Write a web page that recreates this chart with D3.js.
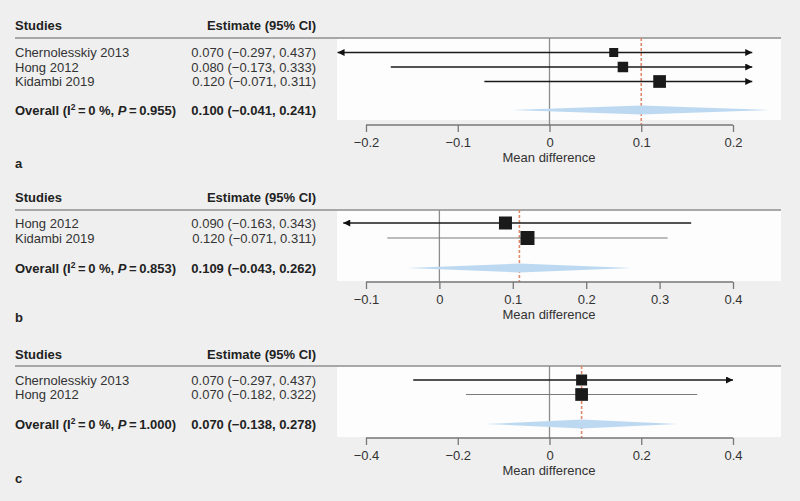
<!DOCTYPE html>
<html><head><meta charset="utf-8">
<script src="https://cdn.jsdelivr.net/npm/d3@7/dist/d3.min.js"></script>
<style>html,body{margin:0;padding:0;background:#efefef;}svg{display:block;}</style>
</head><body>
<script>
// ---- Data ----
const studiesA = ["Chernolesskiy 2013", "Hong 2012", "Kidambi 2019"];
const estA = [0.070, 0.080, 0.120];
const lowA = [-0.297, -0.173, -0.071];
const highA = [0.437, 0.333, 0.311];
const weightA = [14.6, 30.8, 54.6];
const overallA = {i2: "0 %", p: "0.955", est: 0.100, low: -0.041, high: 0.241};
const ticksA = [-0.2, -0.1, 0, 0.1, 0.2];

const studiesB = ["Hong 2012", "Kidambi 2019"];
const estB = [0.090, 0.120];
const lowB = [-0.163, -0.071];
const highB = [0.343, 0.311];
const weightB = [36.4, 63.6];
const overallB = {i2: "0 %", p: "0.853", est: 0.109, low: -0.043, high: 0.262};
const ticksB = [-0.1, 0, 0.1, 0.2, 0.3, 0.4];

const studiesC = ["Chernolesskiy 2013", "Hong 2012"];
const estC = [0.070, 0.070];
const lowC = [-0.297, -0.182];
const highC = [0.437, 0.322];
const weightC = [32.0, 68.0];
const overallC = {i2: "0 %", p: "1.000", est: 0.070, low: -0.138, high: 0.278};
const ticksC = [-0.4, -0.2, 0, 0.2, 0.4];

const panelLetters = ["a", "b", "c"];
const headerStudies = "Studies";
const headerEstimate = "Estimate (95% CI)";
const axisTitle = "Mean difference";

// ---- Layout (styles/positions) ----
const W = 800, H = 501;
const FONT = "'Liberation Sans', Arial, sans-serif";
const FS = 13;
const panels = [
  {studies: studiesA, est: estA, low: lowA, high: highA, w: weightA, ov: overallA, ticks: ticksA, letter: panelLetters[0],
   rowY: [52.5, 67, 81.5], ovY: 110, boxBottom: 120, axisY: 125, clip: [-0.231, 0.221], sq: [9, 12.7],
   lineTop: 38, headY: 25, letterY: 163},
  {studies: studiesB, est: estB, low: lowB, high: highB, w: weightB, ov: overallB, ticks: ticksB, letter: panelLetters[1],
   rowY: [223, 238], ovY: 268, boxBottom: 281, axisY: 282, clip: [-0.131, 0.45], sq: [13, 14],
   lineTop: 210, headY: 197, letterY: 317},
  {studies: studiesC, est: estC, low: lowC, high: highC, w: weightC, ov: overallC, ticks: ticksC, letter: panelLetters[2],
   rowY: [380, 394.5], ovY: 424, boxBottom: 437, axisY: 438, clip: [-0.45, 0.40], sq: [11, 12.7],
   lineTop: 366, headY: 354.5, letterY: 478}
];

const fmt = d3.format(".3f");
const num = v => fmt(v).replace("-", "\u2212");
const ciText = (e, l, h) => `${num(e)} (${num(l)}, ${num(h)})`;

const svg = d3.select("body").append("svg").attr("width", W).attr("height", H)
  .style("font-family", FONT);
svg.append("rect").attr("width", W).attr("height", H).attr("fill", "#efefef");

const defs = svg.append("defs");
defs.append("marker").attr("id", "arrow").attr("viewBox", "0 0 10 10")
  .attr("refX", 10).attr("refY", 5).attr("markerWidth", 9).attr("markerHeight", 7)
  .attr("markerUnits", "userSpaceOnUse").attr("orient", "auto-start-reverse")
  .append("path").attr("d", "M0,0 L10,5 L0,10 z").attr("fill", "#111");

const textX = 15, estRight = 316, boxLeft = 337, boxRight = 781;

panels.forEach((p, pi) => {
  const g = svg.append("g");
  const x = d3.scaleLinear().domain([p.ticks[0], p.ticks[p.ticks.length - 1]]).range([366, 733]);
  const lineTop = p.lineTop;

  g.append("rect").attr("x", boxLeft).attr("y", lineTop).attr("width", boxRight - boxLeft)
    .attr("height", p.boxBottom - lineTop).attr("fill", "#fdfdfd");
  g.append("line").attr("x1", textX).attr("x2", boxRight).attr("y1", lineTop).attr("y2", lineTop)
    .attr("stroke", "#a8a8a8").attr("stroke-width", 2);

  g.append("text").attr("x", textX).attr("y", p.headY).attr("dy", "0.35em")
    .attr("font-size", FS).attr("font-weight", "bold").attr("fill", "#222").text(headerStudies);
  g.append("text").attr("x", estRight).attr("y", p.headY).attr("dy", "0.35em")
    .attr("text-anchor", "end").attr("font-size", FS).attr("font-weight", "bold").attr("fill", "#222").text(headerEstimate);

  g.append("line").attr("x1", x(0)).attr("x2", x(0)).attr("y1", lineTop).attr("y2", p.axisY)
    .attr("stroke", "#8c8c8c").attr("stroke-width", 1.3);
  g.append("line").attr("x1", x(p.ov.est)).attr("x2", x(p.ov.est)).attr("y1", lineTop).attr("y2", p.axisY)
    .attr("stroke", "#e0896a").attr("stroke-width", 1.6).attr("stroke-dasharray", "3,2");

  const sz = d3.scaleLinear().domain(d3.extent(p.w)).range(p.sq);
  p.studies.forEach((s, i) => {
    const y = p.rowY[i];
    g.append("text").attr("x", textX).attr("y", y).attr("dy", "0.35em").attr("font-size", FS)
      .attr("fill", "#333").text(s);
    g.append("text").attr("x", estRight).attr("y", y).attr("dy", "0.35em").attr("font-size", FS)
      .attr("text-anchor", "end").attr("fill", "#333").text(ciText(p.est[i], p.low[i], p.high[i]));
    const lo = Math.max(p.low[i], p.clip[0]);
    const hi = Math.min(p.high[i], p.clip[1]);
    const arrL = p.low[i] < p.clip[0], arrR = p.high[i] > p.clip[1];
    const arrowed = arrL || arrR;
    const ln = g.append("line").attr("x1", x(lo)).attr("x2", x(hi)).attr("y1", y).attr("y2", y)
      .attr("stroke", arrowed ? "#1a1a1a" : "#7a7a7a").attr("stroke-width", arrowed ? 1.4 : 1.1);
    if (arrL) ln.attr("marker-start", "url(#arrow)");
    if (arrR) ln.attr("marker-end", "url(#arrow)");
    const s2 = sz(p.w[i]);
    g.append("rect").attr("x", x(p.est[i]) - s2 / 2).attr("y", y - s2 / 2).attr("width", s2).attr("height", s2)
      .attr("fill", "#1a1a1a");
  });

  const ovLabel = g.append("text").attr("x", textX).attr("y", p.ovY).attr("dy", "0.35em")
    .attr("font-size", FS).attr("font-weight", "bold").attr("fill", "#222");
  ovLabel.append("tspan").text("Overall (I");
  ovLabel.append("tspan").attr("font-size", 8.5).attr("dy", "-0.5em").text("2");
  ovLabel.append("tspan").attr("dy", "0.35em").text(`\u2009=\u2009${p.ov.i2}, `);
  ovLabel.append("tspan").attr("font-style", "italic").text("P");
  ovLabel.append("tspan").text(`\u2009=\u2009${p.ov.p})`);
  g.append("text").attr("x", estRight).attr("y", p.ovY).attr("dy", "0.35em").attr("font-size", FS)
    .attr("font-weight", "bold").attr("text-anchor", "end").attr("fill", "#222")
    .text(ciText(p.ov.est, p.ov.low, p.ov.high));
  const dh = 4.5;
  g.append("path")
    .attr("d", `M${x(p.ov.low)},${p.ovY} L${x(p.ov.est)},${p.ovY - dh} L${x(p.ov.high)},${p.ovY} L${x(p.ov.est)},${p.ovY + dh} Z`)
    .attr("fill", "#bcd9f1");

  const ax = g.append("g").attr("transform", `translate(0,${p.axisY})`)
    .call(d3.axisBottom(x).tickValues(p.ticks).tickSize(7).tickPadding(6)
      .tickFormat(v => v === 0 ? "0" : d3.format("")(v).replace("-", "\u2212")));
  ax.select(".domain").attr("stroke", "#777").attr("stroke-width", 1.3)
    .attr("d", `M${x.range()[0]},0H${x.range()[1]}`);
  ax.selectAll(".tick line").attr("stroke", "#777").attr("stroke-width", 1.3);
  ax.selectAll(".tick text").attr("font-size", FS).attr("fill", "#333").attr("font-family", FONT);

  g.append("text").attr("x", 549).attr("y", p.axisY + 37).attr("text-anchor", "middle")
    .attr("font-size", FS).attr("fill", "#333").text(axisTitle);

  g.append("text").attr("x", textX).attr("y", p.letterY).attr("dy", "0.35em").attr("font-size", FS)
    .attr("font-weight", "bold").attr("fill", "#222").text(p.letter);
});
</script>
</body></html>
